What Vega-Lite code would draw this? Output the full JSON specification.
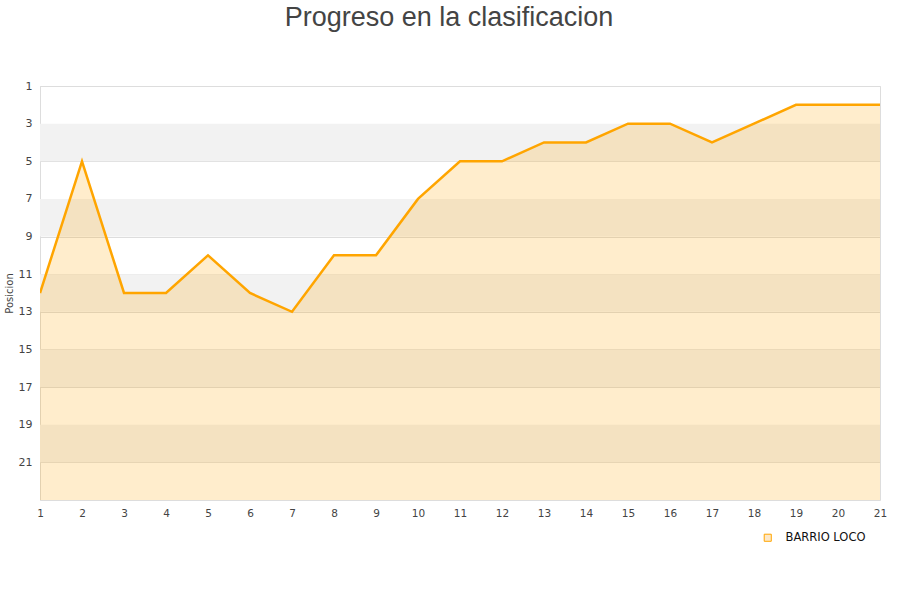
{
  "$schema": "https://vega.github.io/schema/vega-lite/v6.json",
  "autosize": "none",
  "width": 840,
  "height": 414,
  "padding": {"left": 40, "top": 86, "right": 20, "bottom": 100},
  "background": "white",
  "title": {
    "text": "Progreso en la clasificacion",
    "font": "Liberation Sans",
    "fontSize": 27,
    "fontWeight": "normal",
    "color": "#444444",
    "anchor": "middle",
    "dx": -11,
    "offset": 48
  },
  "config": {
    "view": {"stroke": "#dddddd", "strokeWidth": 1},
    "font": "DejaVu Sans"
  },
  "datasets": {
    "bands": [
      {"y": 3, "y2": 5},
      {"y": 7, "y2": 9},
      {"y": 11, "y2": 13},
      {"y": 15, "y2": 17},
      {"y": 19, "y2": 21}
    ],
    "pos": [
      {"jornada": 1, "posicion": 12, "equipo": "BARRIO LOCO"},
      {"jornada": 2, "posicion": 5, "equipo": "BARRIO LOCO"},
      {"jornada": 3, "posicion": 12, "equipo": "BARRIO LOCO"},
      {"jornada": 4, "posicion": 12, "equipo": "BARRIO LOCO"},
      {"jornada": 5, "posicion": 10, "equipo": "BARRIO LOCO"},
      {"jornada": 6, "posicion": 12, "equipo": "BARRIO LOCO"},
      {"jornada": 7, "posicion": 13, "equipo": "BARRIO LOCO"},
      {"jornada": 8, "posicion": 10, "equipo": "BARRIO LOCO"},
      {"jornada": 9, "posicion": 10, "equipo": "BARRIO LOCO"},
      {"jornada": 10, "posicion": 7, "equipo": "BARRIO LOCO"},
      {"jornada": 11, "posicion": 5, "equipo": "BARRIO LOCO"},
      {"jornada": 12, "posicion": 5, "equipo": "BARRIO LOCO"},
      {"jornada": 13, "posicion": 4, "equipo": "BARRIO LOCO"},
      {"jornada": 14, "posicion": 4, "equipo": "BARRIO LOCO"},
      {"jornada": 15, "posicion": 3, "equipo": "BARRIO LOCO"},
      {"jornada": 16, "posicion": 3, "equipo": "BARRIO LOCO"},
      {"jornada": 17, "posicion": 4, "equipo": "BARRIO LOCO"},
      {"jornada": 18, "posicion": 3, "equipo": "BARRIO LOCO"},
      {"jornada": 19, "posicion": 2, "equipo": "BARRIO LOCO"},
      {"jornada": 20, "posicion": 2, "equipo": "BARRIO LOCO"},
      {"jornada": 21, "posicion": 2, "equipo": "BARRIO LOCO"}
    ]
  },
  "layer": [
    {
      "data": {"name": "bands"},
      "mark": {"type": "rect", "color": "#f2f2f2"},
      "encoding": {
        "y": {"field": "y", "type": "quantitative", "scale": {"domain": [1, 23], "reverse": true, "nice": false, "zero": false}},
        "y2": {"field": "y2"}
      }
    },
    {
      "data": {"name": "pos"},
      "mark": {"type": "area", "color": "#ffa500", "opacity": 0.2},
      "encoding": {
        "x": {"field": "jornada", "type": "quantitative"},
        "y": {"field": "posicion", "type": "quantitative"},
        "y2": {"datum": 23}
      }
    },
    {
      "data": {"name": "pos"},
      "mark": {"type": "line", "strokeWidth": 2.5, "clip": true},
      "encoding": {
        "x": {
          "field": "jornada",
          "type": "quantitative",
          "scale": {"domain": [1, 21], "nice": false, "zero": false},
          "axis": {
            "title": null,
            "values": [1,2,3,4,5,6,7,8,9,10,11,12,13,14,15,16,17,18,19,20,21],
            "grid": false,
            "ticks": false,
            "domain": false,
            "labelFontSize": 10.5,
            "labelColor": "#444444",
            "labelPadding": 8,
            "labelFlush": false
          }
        },
        "y": {
          "field": "posicion",
          "type": "quantitative",
          "axis": {
            "title": "Posicion",
            "titleFontSize": 10,
            "titleFontWeight": "normal",
            "titleColor": "#444444",
            "titlePadding": 4,
            "values": [1,3,5,7,9,11,13,15,17,19,21],
            "grid": true,
            "gridColor": "#dddddd",
            "ticks": false,
            "domain": true,
            "domainColor": "#dddddd",
            "labelFontSize": 11,
            "labelColor": "#444444",
            "labelPadding": 8
          }
        },
        "color": {
          "field": "equipo",
          "type": "nominal",
          "scale": {"range": ["#ffa500"]},
          "legend": {
            "title": null,
            "orient": "none",
            "legendX": 722,
            "legendY": 446,
            "symbolType": "square",
            "symbolSize": 50,
            "labelFontSize": 11.5,
            "labelOffset": 12,
            "labelColor": "#111111",
            "labelFont": "DejaVu Sans",
            "encode": {
              "symbols": {"update": {"fill": {"value": "#fde8c8"}, "stroke": {"value": "#8a7458"}, "strokeWidth": {"value": 1}, "opacity": {"value": 1}}}
            }
          }
        }
      }
    }
  ]
}
